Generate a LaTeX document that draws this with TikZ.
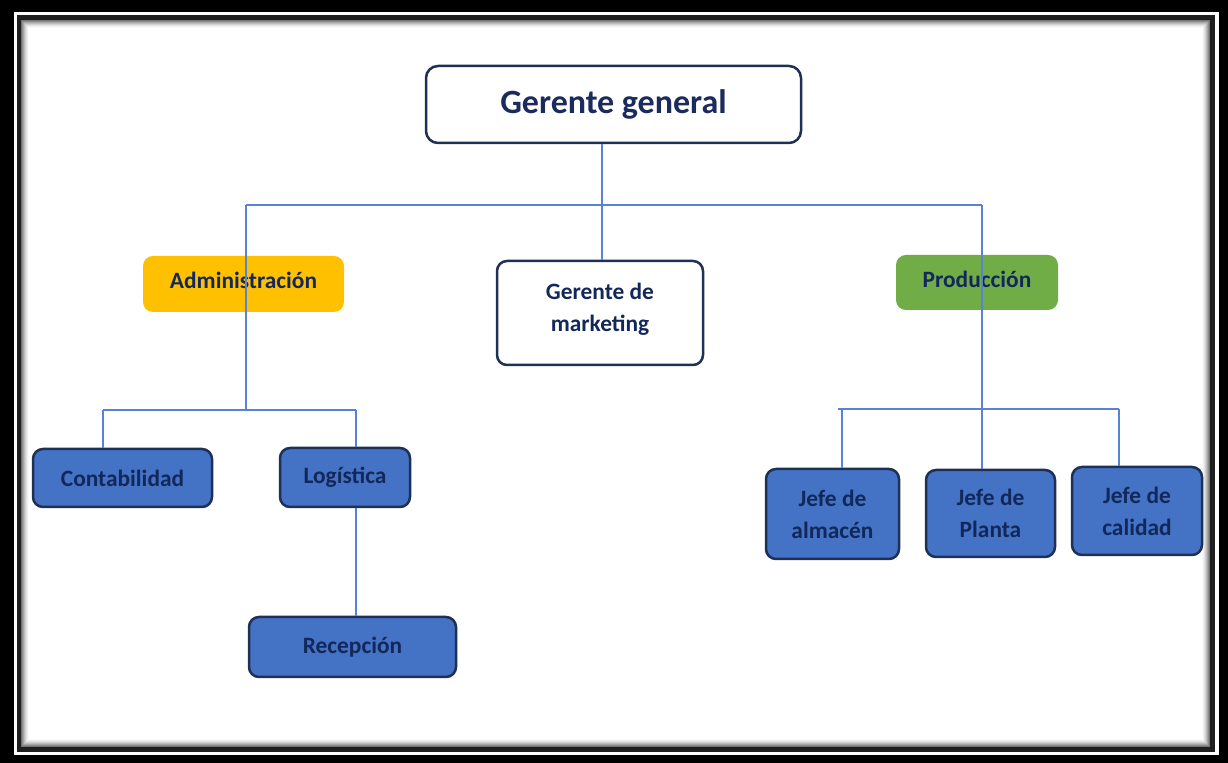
\documentclass[tikz,border=0pt]{standalone}
\usepackage{fontspec}
\setmainfont{Carlito}
\definecolor{navy}{HTML}{1B2B5B}
\definecolor{navytxt}{HTML}{12285A}
\definecolor{boxblue}{HTML}{4472C4}
\definecolor{boxedge}{HTML}{1F3055}
\definecolor{linkblue}{HTML}{5A82D2}
\definecolor{adminfill}{HTML}{FFC000}
\definecolor{prodfill}{HTML}{70AD47}
\tikzset{
  basebox/.style={rounded corners=5pt, inner sep=2pt, align=center, font=\bfseries\fontsize{11.7}{16}\selectfont, text=navytxt},
  whitebox/.style={basebox, draw=boxedge, line width=1.25pt, fill=white},
  bluebox/.style={basebox, draw=boxedge, line width=1.25pt, fill=boxblue},
  yellowbox/.style={basebox, fill=adminfill},
  greenbox/.style={basebox, fill=prodfill},
  link/.style={draw=linkblue, line width=0.65pt},
}
\begin{document}
\begin{tikzpicture}[x=0.5pt,y=-0.5pt]
\useasboundingbox (0,0) rectangle (1228,763);
% frame
\fill[black] (0,0) rectangle (1228,763);
\fill[white] (14,12) rectangle (1219,755);
\fill[black!88] (17,15) rectangle (1215,752);
\foreach \i/\c in {0/55,1/45,2/35,3/26,4/18,5/11,6/6,7/2}{
  \fill[black!\c] (21+\i,20+\i) rectangle (1210-\i,747-\i);
}
\fill[white] (29,28) rectangle (1202,739);
% nodes
\node[whitebox, rounded corners=6pt, minimum width=187.5pt, minimum height=38.5pt, font=\bfseries\fontsize{17}{20}\selectfont, text=navy] (gg) at (613.5,104.5) {Gerente general};
\node[yellowbox, minimum width=100.5pt, minimum height=28pt, text depth=4pt] (adm) at (243.5,284) {Administración};
\node[whitebox, minimum width=103pt, minimum height=52pt, text depth=6pt] (mk) at (600,313) {Gerente de\\marketing};
\node[greenbox, minimum width=81pt, minimum height=27.5pt, text depth=3pt] (prod) at (977,282.5) {Producción};
\node[bluebox, minimum width=89.5pt, minimum height=29pt] (conta) at (122.5,478) {Contabilidad};
\node[bluebox, minimum width=65pt, minimum height=29.5pt] (log) at (345,477.5) {Logística};
\node[bluebox, minimum width=103.5pt, minimum height=30pt] (rec) at (352.5,647) {Recepción};
\node[bluebox, minimum width=66.5pt, minimum height=45pt] (alm) at (832.5,514) {Jefe de\\almacén};
\node[bluebox, minimum width=64.5pt, minimum height=43.5pt] (pla) at (990.5,513.5) {Jefe de\\Planta};
\node[bluebox, minimum width=65pt, minimum height=44pt] (cal) at (1137,511) {Jefe de\\calidad};
% junctions
\coordinate (j0) at (602,205);
\coordinate (hl) at (246,205);
\coordinate (hr) at (982,205);
\coordinate (jl) at (246,410);
\coordinate (jl1) at (103,410);
\coordinate (jl2) at (356,410);
\coordinate (jr0) at (838,409);
\coordinate (jr1) at (842,409);
\coordinate (jr2) at (1119,409);
% connectors
\draw[link] (gg.south -| j0) -- (j0);
\draw[link] (hl) -- (hr);
\draw[link] (j0) -- (mk.north -| j0);
\draw[link] (hl) -- (jl);
\draw[link] (jl1) -- (jl2);
\draw[link] (jl1) -- (conta.north -| jl1);
\draw[link] (jl2) -- (log.north -| jl2);
\draw[link] (log.south -| jl2) -- (rec.north -| jl2);
\draw[link] (hr) -- (pla.north -| hr);
\draw[link] (jr0) -- (jr2);
\draw[link] (jr1) -- (alm.north -| jr1);
\draw[link] (jr2) -- (cal.north -| jr2);
\end{tikzpicture}
\end{document}
